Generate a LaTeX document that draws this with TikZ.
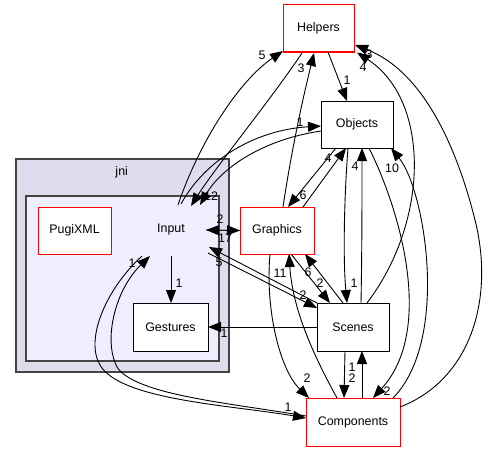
\documentclass[tikz,border=0pt]{standalone}
\usepackage{fontspec}
\setmainfont{Liberation Sans}
\usetikzlibrary{arrows.meta,calc}
\definecolor{clusterout}{HTML}{DDDDEE}
\definecolor{clusterin}{HTML}{EEEEFF}
\definecolor{clusterline}{HTML}{444444}
\newcommand\diafont{\fontsize{12.4}{14}\selectfont}
\tikzset{
  dirbox/.style={draw=black, line width=1pt, fill=white, inner sep=0pt, font=\diafont},
  reddir/.style={dirbox, draw=red},
  dep/.style={-{Triangle[length=13pt,width=10pt]}, line width=0.9pt},
  lbl/.style={inner sep=0pt, font=\diafont},
  cluster/.style={draw=clusterline, line width=1.5pt, inner sep=0pt}
}
\begin{document}
\begin{tikzpicture}[x=1pt,y=-1pt]
\useasboundingbox[fill=white] (0,0) rectangle (489,452);
% clusters
\node[cluster, fill=clusterout, minimum width=213pt, minimum height=213pt] (jni) at (122.3,265.5) {};
\node[lbl] (jnilabel) at (121.7,172.7) {jni};
\node[cluster, fill=clusterin, minimum width=193pt, minimum height=165pt] (inputcl) at (122.5,278.5) {};
\node[lbl, minimum width=66pt, minimum height=50pt] (Input) at (171,230) {Input};
% nodes
\node[reddir, minimum width=71pt, minimum height=47pt] (Helpers) at (318.5,28.5) {Helpers};
\node[dirbox, minimum width=72pt, minimum height=47pt] (Objects) at (357,124.5) {Objects};
\node[reddir, minimum width=74pt, minimum height=47pt] (Graphics) at (277,230.5) {Graphics};
\node[dirbox, minimum width=72pt, minimum height=48pt] (Scenes) at (353,327) {Scenes};
\node[reddir, minimum width=94pt, minimum height=48pt] (Components) at (353,422) {Components};
\node[dirbox, minimum width=75pt, minimum height=48pt] (Gestures) at (170.5,327) {Gestures};
\node[reddir, minimum width=73pt, minimum height=47pt] (PugiXML) at (74.5,230.5) {PugiXML};
% edges
\draw[dep] ($(Input)+(7,-25)$) .. controls (200,140) and (240,80) .. ($(Helpers)+(-35.5,22.5)$);
\draw[dep] ($(Helpers)+(-16.5,24.5)$) .. controls (272,98) and (215,168) .. ($(Input)+(20,-24)$);
\draw[dep] ($(Input)+(10,-26)$) .. controls (205,160) and (255,130) .. ($(Objects)+(-36,1.5)$);
\draw[dep] ($(Objects)+(-36,6.5)$) .. controls (260,140) and (220,170) .. ($(Input)+(29,-25)$);
\draw[dep] ($(Helpers)+(9.5,23.5)$) -- ($(Objects)+(-10,-23.5)$);
\draw[dep] ($(Graphics)+(6,-23.5)$) .. controls (290,160) and (300,110) .. ($(Helpers)+(-4.5,24.5)$);
\draw[dep] ($(Objects)+(-21,23.5)$) -- ($(Graphics)+(11,-23.5)$);
\draw[dep] ($(Graphics)+(26,-23.5)$) -- ($(Objects)+(-11,23.5)$);
\draw[dep] ($(Objects)+(-9,23.5)$) .. controls (344,200) and (343,260) .. ($(Scenes)+(-6,-24)$);
\draw[dep] ($(Scenes)+(8,-24)$) .. controls (362,250) and (362,200) .. ($(Objects)+(5,23.5)$);
\draw[dep] ($(Objects)+(12,23.5)$) .. controls (400,210) and (435,330) .. ($(Components)+(20,-24)$);
\draw[dep] ($(Components)+(40,-24)$) .. controls (450,340) and (425,190) .. ($(Objects)+(34,23.5)$);
\draw[dep] ($(Scenes)+(14,-24)$) .. controls (430,220) and (430,100) .. ($(Helpers)+(38.5,24)$);
\draw[dep] ($(Components)+(47,-15)$) .. controls (470,380) and (495,300) .. (475,220) .. controls (455,140) and (420,70) .. ($(Helpers)+(36.5,16.5)$);
\draw[dep] ($(Graphics)+(14,23.5)$) -- ($(Scenes)+(-23,-24)$);
\draw[dep] ($(Scenes)+(-10,-24)$) -- ($(Graphics)+(28,23.5)$);
\draw[dep] ($(Graphics)+(-7,23.5)$) .. controls (265,310) and (280,370) .. ($(Components)+(-44,-24)$);
\draw[dep] ($(Components)+(-16,-24)$) .. controls (305,340) and (292,300) .. ($(Graphics)+(12,23.5)$);
\draw[dep] ($(Input)+(35,0)$) -- ($(Graphics)+(-37,0)$);
\draw[dep] ($(Graphics)+(-37,0)$) -- ($(Input)+(35,0)$);
\draw[dep] ($(Scenes)+(-36,-24)$) -- ($(Input)+(38,17)$);
\draw[dep] ($(Input)+(37,23)$) -- ($(Scenes)+(-36,-19)$);
\draw[dep] ($(Scenes)+(-36,0)$) -- ($(Gestures)+(37.5,0)$);
\draw[dep] ($(Scenes)+(-8,24)$) -- ($(Components)+(-9,-24)$);
\draw[dep] ($(Components)+(9,-24)$) -- ($(Scenes)+(9,24)$);
\draw[dep] ($(Input)+(0,26)$) -- ($(Gestures)+(0.5,-24)$);
\draw[dep] ($(Input)+(-29,26)$) .. controls (105,290) and (85,340) .. (100,365) .. controls (120,400) and (230,405) .. ($(Components)+(-47,-4)$);
\draw[dep] ($(Components)+(-47,-6)$) .. controls (230,403) and (135,395) .. (117,367) .. controls (103,340) and (115,290) .. ($(Input)+(-21,26)$);
% labels
\node[lbl] (l5a) at (262,55) {5};
\node[lbl] (l12) at (211,196) {12};
\node[lbl] (l1a) at (300,122) {1};
\node[lbl] (l1b) at (347,80) {1};
\node[lbl] (l3a) at (301,68) {3};
\node[lbl] (l6a) at (303,195) {6};
\node[lbl] (l4a) at (328,158) {4};
\node[lbl] (l1c) at (354,283) {1};
\node[lbl] (l4b) at (355,166) {4};
\node[lbl] (l2a) at (387,391) {2};
\node[lbl] (l10) at (392,168) {10};
\node[lbl] (l4c) at (363,67) {4};
\node[lbl] (l3b) at (369,54) {3};
\node[lbl] (l2b) at (320,283) {2};
\node[lbl] (l6b) at (308,272) {6};
\node[lbl] (l2c) at (307,378) {2};
\node[lbl] (l11) at (280,273) {11};
\node[lbl] (l2d) at (220,219) {2};
\node[lbl] (l17) at (225,238) {17};
\node[lbl] (l5b) at (219,262) {5};
\node[lbl] (l2e) at (303,295) {2};
\node[lbl] (l1d) at (224,333) {1};
\node[lbl] (l2f) at (352,378) {2};
\node[lbl] (l1e) at (352,367) {1};
\node[lbl] (l1f) at (179,283) {1};
\node[lbl] (l1g) at (288,407) {1};
\node[lbl] (l1h) at (132,263) {1};
\end{tikzpicture}
\end{document}
